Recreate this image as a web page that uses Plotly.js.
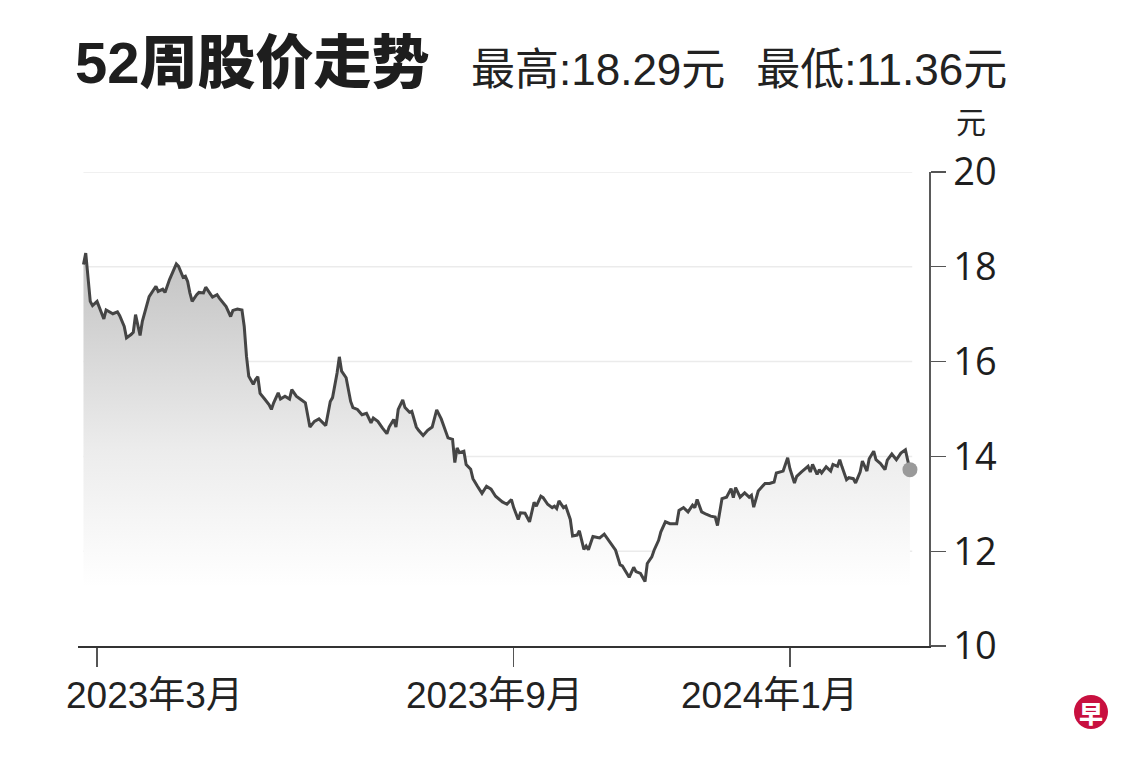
<!DOCTYPE html>
<html>
<head>
<meta charset="utf-8">
<script src="https://cdn.plot.ly/plotly-3.0.1.min.js"></script>
<style>
  html, body { margin: 0; padding: 0; background: #ffffff; }
  #chart { width: 1140px; height: 760px; }
</style>
</head>
<body>
<div id="chart"></div>
<script>
// ---------------- DATA ----------------
const titleText = '52周股价走势';
const highLabel = '最高:18.29元';
const lowLabel = '最低:11.36元';
const unitLabel = '元';
const logoText = '早';

const tickDates = ['2023-03-01', '2023-09-01', '2024-01-01'];
const tickLabels = ['2023年3月', '2023年9月', '2024年1月'];
const yTickValues = [10, 12, 14, 16, 18, 20];

const dates = [
  '2023-02-23','2023-02-24','2023-02-26','2023-02-27','2023-03-01','2023-03-02','2023-03-04','2023-03-05',
  '2023-03-07','2023-03-08','2023-03-10','2023-03-11','2023-03-13','2023-03-14','2023-03-16','2023-03-17',
  '2023-03-18','2023-03-19','2023-03-20','2023-03-21','2023-03-23','2023-03-24','2023-03-27','2023-03-28',
  '2023-03-30','2023-03-31','2023-04-02','2023-04-04','2023-04-05','2023-04-06','2023-04-08','2023-04-09',
  '2023-04-10','2023-04-11','2023-04-12','2023-04-14','2023-04-15','2023-04-17','2023-04-18','2023-04-20',
  '2023-04-21','2023-04-23','2023-04-24','2023-04-27','2023-04-29','2023-04-30','2023-05-02','2023-05-04',
  '2023-05-05','2023-05-06','2023-05-07','2023-05-09','2023-05-10','2023-05-11','2023-05-12','2023-05-14',
  '2023-05-16','2023-05-17','2023-05-18','2023-05-20','2023-05-21','2023-05-23','2023-05-25','2023-05-26',
  '2023-05-28','2023-05-30','2023-06-01','2023-06-03','2023-06-05','2023-06-07','2023-06-10','2023-06-12',
  '2023-06-13','2023-06-15','2023-06-16','2023-06-17','2023-06-19','2023-06-21','2023-06-22','2023-06-24',
  '2023-06-26','2023-06-28','2023-06-30','2023-07-01','2023-07-03','2023-07-05','2023-07-07','2023-07-08',
  '2023-07-10','2023-07-11','2023-07-12','2023-07-14','2023-07-15','2023-07-17','2023-07-18','2023-07-20',
  '2023-07-21','2023-07-23','2023-07-25','2023-07-27','2023-07-28','2023-07-29','2023-07-31','2023-08-02',
  '2023-08-03','2023-08-05','2023-08-06','2023-08-07','2023-08-08','2023-08-10','2023-08-11','2023-08-13',
  '2023-08-14','2023-08-16','2023-08-18','2023-08-20','2023-08-22','2023-08-24','2023-08-26','2023-08-27',
  '2023-08-29','2023-08-31','2023-09-01','2023-09-03','2023-09-04','2023-09-06','2023-09-08','2023-09-10',
  '2023-09-11','2023-09-13','2023-09-14','2023-09-16','2023-09-18','2023-09-19','2023-09-20','2023-09-21',
  '2023-09-23','2023-09-24','2023-09-26','2023-09-27','2023-09-29','2023-09-30','2023-10-02','2023-10-03',
  '2023-10-04','2023-10-06','2023-10-08','2023-10-09','2023-10-11','2023-10-14','2023-10-16','2023-10-18',
  '2023-10-19','2023-10-22','2023-10-24','2023-10-25','2023-10-27','2023-10-29','2023-10-30','2023-11-01',
  '2023-11-02','2023-11-04','2023-11-05','2023-11-07','2023-11-09','2023-11-12','2023-11-13','2023-11-15',
  '2023-11-17','2023-11-19','2023-11-20','2023-11-21','2023-11-23','2023-11-25','2023-11-27','2023-11-29',
  '2023-11-30','2023-12-02','2023-12-04','2023-12-06','2023-12-07','2023-12-08','2023-12-10','2023-12-12',
  '2023-12-14','2023-12-15','2023-12-16','2023-12-18','2023-12-20','2023-12-21','2023-12-23','2023-12-25',
  '2023-12-26','2023-12-28','2023-12-29','2023-12-31','2024-01-01','2024-01-03','2024-01-04','2024-01-06',
  '2024-01-08','2024-01-09','2024-01-10','2024-01-11','2024-01-13','2024-01-14','2024-01-15','2024-01-17',
  '2024-01-19','2024-01-20','2024-01-22','2024-01-23','2024-01-24','2024-01-26','2024-01-27','2024-01-29',
  '2024-01-30','2024-02-01','2024-02-02','2024-02-04','2024-02-05','2024-02-07','2024-02-08','2024-02-10',
  '2024-02-12','2024-02-13','2024-02-15','2024-02-17','2024-02-19','2024-02-21','2024-02-22','2024-02-23'
];

const prices = [
  18.05,18.29,17.27,17.18,17.27,17.16,16.90,17.09,
  17.04,17.01,17.05,16.97,16.74,16.50,16.57,16.62,
  16.99,16.74,16.55,16.85,17.24,17.37,17.59,17.48,
  17.53,17.46,17.73,17.97,18.06,18.01,17.78,17.80,
  17.69,17.45,17.27,17.41,17.46,17.45,17.57,17.43,
  17.36,17.41,17.34,17.16,16.95,17.08,17.11,17.09,
  16.74,16.11,15.69,15.52,15.62,15.68,15.33,15.21,
  15.09,14.99,15.13,15.34,15.21,15.27,15.21,15.41,
  15.27,15.20,15.13,14.62,14.74,14.79,14.65,15.16,
  15.24,15.76,16.10,15.80,15.66,15.16,15.03,14.99,
  14.88,14.91,14.71,14.81,14.74,14.60,14.48,14.62,
  14.78,14.62,14.99,15.19,15.03,14.93,14.95,14.62,
  14.55,14.44,14.55,14.62,14.81,14.98,14.79,14.53,
  14.39,14.36,13.87,14.18,14.08,14.11,13.83,13.73,
  13.53,13.37,13.22,13.37,13.31,13.16,13.09,13.04,
  12.99,13.09,12.92,12.67,12.81,12.80,12.62,13.03,
  12.95,13.16,13.13,12.99,12.92,12.95,12.90,13.06,
  12.92,12.95,12.67,12.32,12.34,12.43,12.04,12.11,
  12.03,12.31,12.29,12.28,12.36,12.16,12.02,11.71,
  11.69,11.45,11.66,11.57,11.53,11.36,11.74,11.88,
  12.02,12.23,12.41,12.62,12.58,12.58,12.86,12.92,
  12.83,12.97,12.92,13.09,12.83,12.78,12.74,12.72,
  12.54,13.11,13.14,13.32,13.13,13.34,13.14,13.23,
  13.14,13.18,12.93,13.27,13.39,13.43,13.43,13.46,
  13.65,13.67,13.69,13.97,13.74,13.44,13.58,13.67,
  13.76,13.79,13.67,13.83,13.62,13.72,13.65,13.78,
  13.69,13.83,13.79,13.93,13.78,13.51,13.55,13.53,
  13.44,13.67,13.90,13.69,13.95,14.11,13.93,13.85,
  13.72,13.92,14.05,13.93,14.07,14.14,13.92,13.72
];

// ---------------- LAYOUT HELPERS ----------------
const W = 1140, H = 760;
const M = { l: 78, r: 211, t: 172, b: 114 };
const PW = W - M.l - M.r, PH = H - M.t - M.b;
const px2x = px => (px - M.l) / PW;
const py2y = py => (H - M.b - py) / PH;

const latinCJK = 'Liberation Sans, Arial, Noto Sans CJK SC, sans-serif';
const lastDate = dates[dates.length - 1];
const lastPrice = prices[prices.length - 1];

const traceLine = {
  type: 'scatter',
  mode: 'lines',
  x: dates,
  y: prices,
  line: { color: '#454545', width: 3, shape: 'linear' },
  fill: 'tozeroy',
  fillgradient: {
    type: 'vertical',
    start: 10,
    stop: 18.3,
    colorscale: [[0, 'rgb(255,255,255)'], [0.15, 'rgb(255,255,255)'], [0.5, 'rgb(236,236,236)'], [1, 'rgb(194,194,194)']]
  },
  hoverinfo: 'skip',
  showlegend: false
};

const traceEnd = {
  type: 'scatter',
  mode: 'markers',
  x: [lastDate],
  y: [lastPrice],
  marker: { color: '#9a9a9a', size: 15, line: { width: 0 } },
  hoverinfo: 'skip',
  showlegend: false
};

const gridShapes = yTickValues.filter(v => v > yTickValues[0]).map(v => ({
  type: 'line', xref: 'x', yref: 'y',
  x0: dates[0], x1: '2024-02-24', y0: v, y1: v,
  line: { color: '#ebebeb', width: 1.5 },
  layer: 'below'
}));

const logoShape = {
  type: 'circle', xref: 'paper', yref: 'paper',
  x0: px2x(1074), x1: px2x(1108), y0: py2y(729), y1: py2y(695),
  fillcolor: '#c8103f', line: { width: 0 }
};

const tickShifts = [57, -19, -20];
const tickAnnotations = tickLabels.map((t, i) => ({
  xref: 'x', yref: 'paper', x: tickDates[i], y: 0,
  xanchor: 'center', yanchor: 'middle', xshift: tickShifts[i], yshift: -49,
  text: t, showarrow: false,
  font: { family: latinCJK, size: 37, color: '#222222' }
}));

const layout = {
  width: W, height: H,
  margin: M,
  paper_bgcolor: '#ffffff',
  plot_bgcolor: 'rgba(0,0,0,0)',
  showlegend: false,
  title: {
    text: titleText,
    xref: 'container', yref: 'container',
    x: 75 / W, xanchor: 'left',
    y: 1 - 63 / H, yanchor: 'middle',
    font: { family: latinCJK, size: 58, color: '#1e1e1e', weight: 900 }
  },
  xaxis: {
    type: 'date',
    range: ['2023-02-20 14:00', '2024-03-02 10:00'],
    tickvals: tickDates,
    showticklabels: false,
    ticks: 'outside', ticklen: 19, tickwidth: 1.2, tickcolor: '#555555',
    showline: true, linecolor: '#333333', linewidth: 1.6,
    showgrid: false, zeroline: false, fixedrange: true
  },
  yaxis: {
    side: 'right',
    range: [10, 20],
    tickvals: yTickValues,
    ticktext: yTickValues.map(String),
    ticks: 'outside', ticklen: 15, tickwidth: 1.2, tickcolor: '#555555',
    showline: true, linecolor: '#5a5a5a', linewidth: 1.6,
    showgrid: false, zeroline: false, fixedrange: true,
    tickfont: { family: 'Open Sans, Noto Sans, sans-serif', size: 38, color: '#1e1e1e' }
  },
  shapes: gridShapes.concat([logoShape]),
  annotations: [
    {
      xref: 'paper', yref: 'paper', x: px2x(469), y: py2y(70),
      xanchor: 'left', yanchor: 'middle',
      text: highLabel + '\u2002\u2009' + lowLabel, showarrow: false,
      font: { family: latinCJK, size: 44, color: '#222222' }
    },
    {
      xref: 'paper', yref: 'paper', x: px2x(971), y: py2y(120),
      xanchor: 'center', yanchor: 'middle', borderpad: 0,
      text: unitLabel, showarrow: false,
      font: { family: 'Noto Sans CJK SC, sans-serif', size: 30, color: '#222222' }
    },
    {
      xref: 'paper', yref: 'paper', x: px2x(1091), y: py2y(712),
      xanchor: 'center', yanchor: 'middle',
      text: logoText, showarrow: false,
      font: { family: 'Noto Sans CJK SC, sans-serif', size: 24, color: '#ffffff', weight: 900 }
    }
  ].concat(tickAnnotations)
};

Plotly.newPlot('chart', [traceLine, traceEnd], layout, { staticPlot: true, displayModeBar: false });
</script>
</body>
</html>
